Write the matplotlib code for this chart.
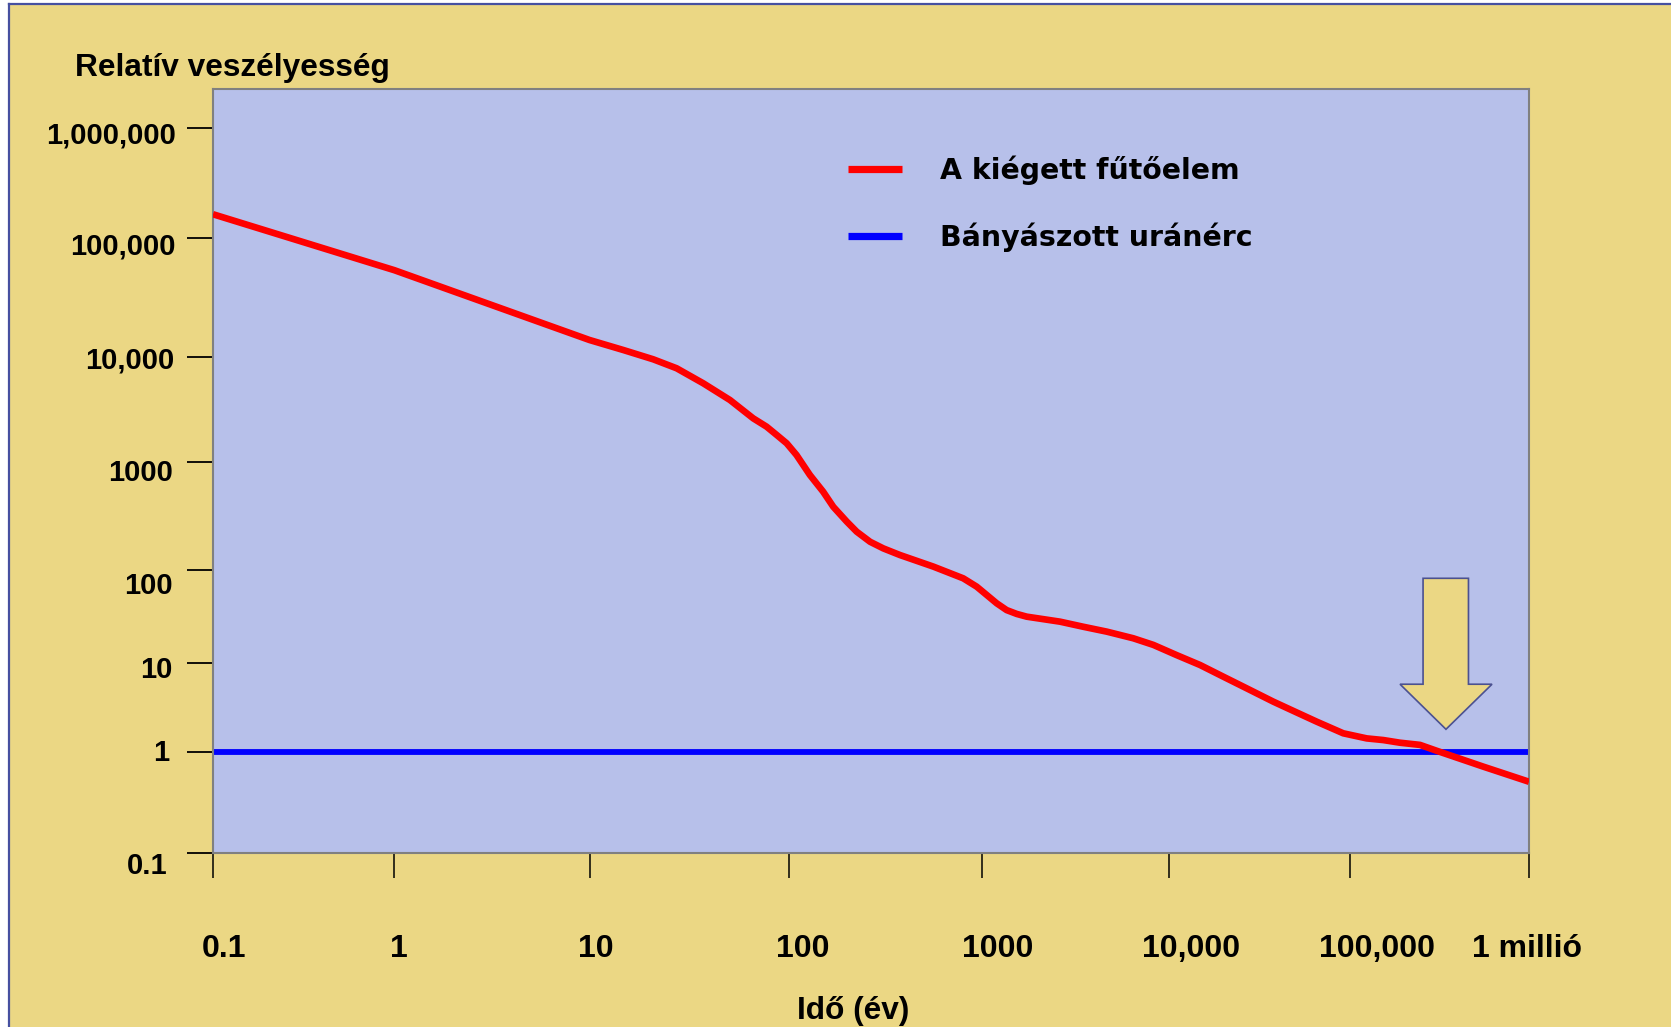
import numpy as np
import matplotlib
matplotlib.use("Agg")
import matplotlib.pyplot as plt
from matplotlib.patches import Polygon, Rectangle
from matplotlib.lines import Line2D
from matplotlib.transforms import offset_copy

# data
time_yr = [0.1, 1, 10, 14.8, 20.9, 27.4, 37.3, 50.8, 66.5, 77.6, 87.3, 97.9, 110, 129,
           151, 170.4, 200, 225, 264, 309, 377, 560, 800, 939, 1060, 1199, 1355, 1535,
           1735, 2620, 3487, 4660, 6460, 8280, 11070, 14890, 20000, 26900, 37760,
           49800, 65500, 91800, 124000, 153600, 190000, 246000, 305000, 556000, 1e6]
spent_fuel = [1.65e5, 5.4e4, 1.4e4, 11530, 9590, 7870, 5650, 3910, 2610, 2173, 1808,
              1507, 1164, 757, 531, 385, 281, 227, 183, 159, 138, 108, 81.7, 66.4, 54,
              43.9, 37.1, 33.7, 31.5, 27.8, 24.5, 21.7, 18.4, 15.6, 12.1, 9.45, 7.0,
              5.19, 3.68, 2.84, 2.2, 1.63, 1.43, 1.37, 1.28, 1.21, 1.04, 0.72, 0.51]
ore_time = [0.1, 1e6]
ore_level = [1, 1]

x_ticks = [0.1, 1, 10, 100, 1000, 1e4, 1e5, 1e6]
x_labels = ["0.1", "1", "10", "100", "1000", "10,000", "100,000", "1 millió"]
y_ticks = [0.1, 1, 10, 100, 1000, 1e4, 1e5, 1e6]
y_labels = ["0.1", "1", "10", "100", "1000", "10,000", "100,000", "1,000,000"]

series_names = ["A kiégett fűtőelem", "Bányászott uránérc"]

# the original axes are hand drawn: decades are not evenly spaced
xk_L = [-3, -1, 0, 1, 2, 3, 4, 5, 6, 8]
xk_P = [-362.6, 0, 181.3, 376.5, 575.5, 769, 955.7, 1137, 1316, 1674]
yk_L = [-3, -1, 0, 1, 2, 3, 4, 5, 6, 8]
yk_P = [-201.4, 0, 100.7, 190.2, 282.8, 391.1, 495.6, 614.7, 725.3, 946.5]


def make_scale(kL, kP):
    def fwd(v):
        v = np.asarray(v, dtype=float)
        return np.interp(np.log10(np.clip(v, 1e-300, None)), kL, kP)

    def inv(p):
        return 10 ** np.interp(np.asarray(p, dtype=float), kP, kL)
    return fwd, inv


yellow = "#EBD784"
panel = "#B7C0EA"
W, H = 1671, 1027

fig = plt.figure(figsize=(W / 100, H / 100), dpi=100, facecolor="white")
fig.patches.append(Rectangle((10 / W, 0), 1, 1 - 4.5 / H, transform=fig.transFigure,
                             facecolor=yellow, edgecolor="none", zorder=-10))
fig.lines.append(Line2D([9 / W, 9 / W], [0, 1 - 3.5 / H], transform=fig.transFigure,
                        color="#4650A0", lw=1.6, zorder=-5))
fig.lines.append(Line2D([9 / W, 1], [1 - 3.5 / H, 1 - 3.5 / H], transform=fig.transFigure,
                        color="#4650A0", lw=1.6, zorder=-5))

ax = fig.add_axes([213 / W, 1 - 853 / H, 1316 / W, 763.7 / H])
ax.set_zorder(1)
ax.set_facecolor(panel)
ax.set_xscale("function", functions=make_scale(xk_L, xk_P))
ax.set_yscale("function", functions=make_scale(yk_L, yk_P))
ax.set_xlim(0.1, 1e6)
ax.set_ylim(0.1, 10 ** (6 + 38.4 / 110.6))

ax.plot(ore_time, ore_level, color="#0000FF", lw=4.2, solid_capstyle="butt",
        label=series_names[1], zorder=2)
ax.plot(time_yr, spent_fuel, color="#FF0000", lw=4.8, solid_capstyle="butt",
        solid_joinstyle="round", label=series_names[0], zorder=3)

for s in ax.spines.values():
    s.set_color("#808080")
    s.set_linewidth(1.5)

ax.set_xticks(x_ticks)
ax.set_xticklabels([])
ax.set_yticks(y_ticks)
ax.set_yticklabels([])
ax.minorticks_off()
ax.tick_params(axis="x", direction="out", length=18, width=1.1, color="black")
ax.tick_params(axis="y", direction="out", length=19, width=1.3, color="black")

# tick labels, nudged like in the original
lab_font = dict(family=["Liberation Sans", "DejaVu Sans"], weight="bold")
x_dx = [11, 5, 6.5, 14.5, 16, 22, 27, -2]
for t, lab, dx in zip(x_ticks, x_labels, x_dx):
    tr = offset_copy(ax.get_xaxis_transform(), fig=fig, x=dx * 0.72, y=-103.7 * 0.72, units="points")
    ax.text(t, 0, lab, transform=tr, ha="center", va="baseline", fontsize=23,
            clip_on=False, **lab_font)

y_dx = [-45, -44, -41, -40.3, -40, -39, -37.3, -37]
y_dy = [21, 8.9, 15.3, 23.7, 18.7, 10.7, 16.7, 15.6]
for v, lab, dx, dy in zip(y_ticks, y_labels, y_dx, y_dy):
    tr = offset_copy(ax.get_yaxis_transform(), fig=fig, x=dx * 0.72, y=-dy * 0.72, units="points")
    ax.text(0, v, lab, transform=tr, ha="right", va="baseline", fontsize=21,
            clip_on=False, **lab_font)

fig.text(75 / W, 1 - 76 / H, "Relatív veszélyesség", ha="left", va="baseline",
         fontsize=22.8, **lab_font)
fig.text(853 / W, 1 - 1019 / H, "Idő (év)", ha="center", va="baseline",
         fontsize=22.8, **lab_font)

handles, labels = ax.get_legend_handles_labels()
leg = ax.legend(handles[::-1], labels[::-1], loc="upper left", bbox_to_anchor=(0.4825, 0.9136),
                frameon=False, borderpad=0, borderaxespad=0, handlelength=1.89,
                handletextpad=1.36, labelspacing=1.32,
                prop=dict(family="DejaVu Sans", weight="bold", size=20.4))
for ln in leg.get_lines():
    ln.set_linewidth(5.2)

# arrow pointing at the crossing
arrow = [(0.9195, 0.3597), (0.9540, 0.3597), (0.9540, 0.2210), (0.9719, 0.2210),
         (0.9369, 0.1620), (0.9020, 0.2210), (0.9195, 0.2210)]
ax.add_patch(Polygon(arrow, closed=True, transform=ax.transAxes, facecolor=yellow,
                     edgecolor="#4B5190", lw=1.2, zorder=4))

fig.savefig("out.png", dpi=100, facecolor=fig.get_facecolor())
